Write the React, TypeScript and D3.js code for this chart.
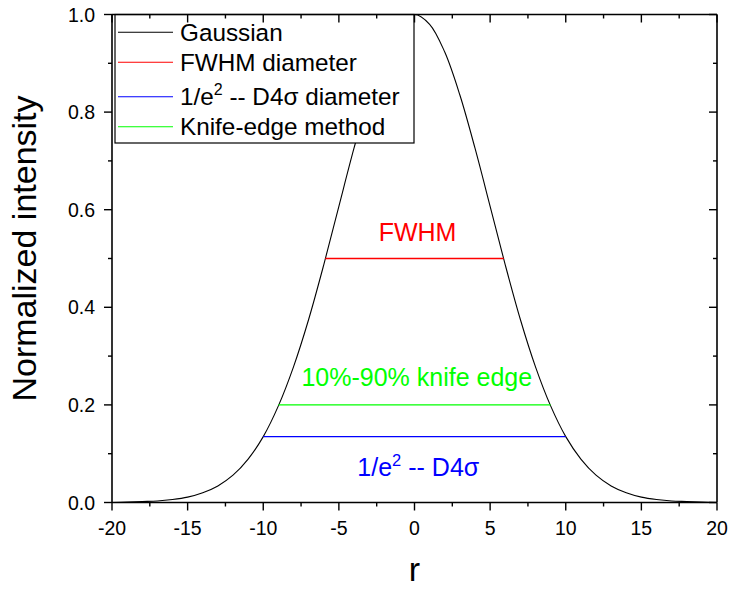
import React from "react";
import * as d3 from "d3";

const rValues = [-20, -19, -18, -17, -16, -15, -14, -13, -12, -11, -10, -9, -8, -7, -6, -5, -4, -3, -2, -1, 0, 1, 2, 3, 4, 5, 6, 7, 8, 9, 10, 11, 12, 13, 14, 15, 16, 17, 18, 19, 20];
const intensity = [0.0, 0.001, 0.002, 0.003, 0.006, 0.011, 0.02, 0.034, 0.056, 0.089, 0.135, 0.198, 0.278, 0.375, 0.487, 0.607, 0.726, 0.835, 0.923, 0.98, 1.0, 0.98, 0.923, 0.835, 0.726, 0.607, 0.487, 0.375, 0.278, 0.198, 0.135, 0.089, 0.056, 0.034, 0.02, 0.011, 0.006, 0.003, 0.002, 0.001, 0.0];

// Horizontal width markers: [xStart, xEnd, level]
const markerNames = ["FWHM diameter", "1/e2 -- D4σ diameter", "Knife-edge method"];
const markerColors = ["#ff0000", "#0000ff", "#00ff00"];
const markerX0 = [-5.9, -10, -9];
const markerX1 = [5.9, 10, 9];
const markerY = [0.5, 0.135, 0.2];

const xTicks = [-20, -15, -10, -5, 0, 5, 10, 15, 20];
const xMinor = [-17.5, -12.5, -7.5, -2.5, 2.5, 7.5, 12.5, 17.5];
const yTicks = [0, 0.2, 0.4, 0.6, 0.8, 1.0];
const yMinor = [0.1, 0.3, 0.5, 0.7, 0.9];

const W = 729;
const H = 590;
const FONT = "'Liberation Sans', Arial, sans-serif";

export default function App() {
  const left = 112, right = 717, top = 14.5, bottom = 502.5;
  const x = d3.scaleLinear().domain([-20, 20]).range([left, right]);
  const y = d3.scaleLinear().domain([0, 1]).range([bottom, top]);

  const pts: [number, number][] = rValues.map((r, i) => [r, intensity[i]]);
  const line = d3
    .line<[number, number]>()
    .x((d) => x(d[0]))
    .y((d) => y(d[1]))
    .curve(d3.curveCatmullRom.alpha(0.5));

  const major = 8, minor = 4;
  const tickLabelSize = 19.5;

  // legend layout
  const legX = 115, legY = top, legW = 299, legH = 128.5;
  const rowLineY = [32.3, 62.3, 96.7, 126.7];
  const legendColors = ["#000000", ...markerColors];

  return (
    <svg
      width={W}
      height={H}
      style={{ position: "absolute", left: 0, top: 0, background: "#fff" }}
      fontFamily={FONT}
    >
      <rect x={0} y={0} width={W} height={H} fill="#fff" />

      {/* Gaussian curve */}
      <path d={line(pts) || ""} fill="none" stroke="#000" strokeWidth={1.1} />

      {/* marker lines */}
      {markerY.map((v, i) => (
        <line
          key={i}
          x1={x(markerX0[i])}
          x2={x(markerX1[i])}
          y1={y(v)}
          y2={y(v)}
          stroke={markerColors[i]}
          strokeWidth={1.4}
        />
      ))}

      {/* annotations */}
      <text x={x(0.2)} y={241} fontSize={25} fill="#ff0000" textAnchor="middle">
        FWHM
      </text>
      <text x={x(0.15)} y={386} fontSize={25} fill="#00ff00" textAnchor="middle">
        10%-90% knife edge
      </text>
      <text x={x(0.25)} y={476} fontSize={25} fill="#0000ff" textAnchor="middle">
        1/e
        <tspan dy={-10} fontSize={16.5}>2</tspan>
        <tspan dy={10}> -- D4σ</tspan>
      </text>

      {/* legend */}
      <rect x={legX} y={legY} width={legW} height={legH} fill="#fff" stroke="#000" strokeWidth={1.2} />
      {["Gaussian", ...markerNames].map((name, i) => (
        <g key={i}>
          <line x1={118} x2={173} y1={rowLineY[i]} y2={rowLineY[i]} stroke={legendColors[i]} strokeWidth={1.1} />
          {i === 2 ? (
            <text x={180} y={rowLineY[i] + 8.5} fontSize={24.3} fill="#000">
              1/e
              <tspan dy={-10} fontSize={16}>2</tspan>
              <tspan dy={10}> -- D4σ diameter</tspan>
            </text>
          ) : (
            <text x={180} y={rowLineY[i] + 8.5} fontSize={24.3} fill="#000">
              {name}
            </text>
          )}
        </g>
      ))}

      {/* axes frame */}
      <line x1={left} x2={right} y1={bottom} y2={bottom} stroke="#000" strokeWidth={1.6} />
      <line x1={left} x2={right} y1={top} y2={top} stroke="#000" strokeWidth={1.6} />
      <line x1={left} x2={left} y1={top} y2={bottom} stroke="#000" strokeWidth={1.6} />
      <line x1={right} x2={right} y1={top} y2={bottom} stroke="#000" strokeWidth={1.6} />

      {/* x ticks */}
      {xTicks.map((t) => (
        <g key={"xt" + t}>
          <line x1={x(t)} x2={x(t)} y1={bottom} y2={bottom + major} stroke="#000" strokeWidth={1.4} />
          <line x1={x(t)} x2={x(t)} y1={top} y2={top + major} stroke="#000" strokeWidth={1.4} />
          <text x={x(t)} y={535} fontSize={tickLabelSize} textAnchor="middle" fill="#000">
            {t}
          </text>
        </g>
      ))}
      {xMinor.map((t) => (
        <g key={"xm" + t}>
          <line x1={x(t)} x2={x(t)} y1={bottom} y2={bottom + minor} stroke="#000" strokeWidth={1.4} />
          <line x1={x(t)} x2={x(t)} y1={top} y2={top + minor} stroke="#000" strokeWidth={1.4} />
        </g>
      ))}

      {/* y ticks */}
      {yTicks.map((t) => (
        <g key={"yt" + t}>
          <line x1={left - major} x2={left} y1={y(t)} y2={y(t)} stroke="#000" strokeWidth={1.4} />
          <line x1={right - major} x2={right} y1={y(t)} y2={y(t)} stroke="#000" strokeWidth={1.4} />
          <text x={95} y={y(t) + 7} fontSize={tickLabelSize} textAnchor="end" fill="#000">
            {d3.format(".1f")(t)}
          </text>
        </g>
      ))}
      {yMinor.map((t) => (
        <g key={"ym" + t}>
          <line x1={left - minor} x2={left} y1={y(t)} y2={y(t)} stroke="#000" strokeWidth={1.4} />
          <line x1={right - minor} x2={right} y1={y(t)} y2={y(t)} stroke="#000" strokeWidth={1.4} />
        </g>
      ))}

      {/* axis titles */}
      <text x={x(0)} y={581} fontSize={34} textAnchor="middle" fill="#000">
        r
      </text>
      <text
        transform={`translate(36,${(95 + 402) / 2}) rotate(-90)`}
        fontSize={34}
        textAnchor="middle"
        fill="#000"
      >
        Normalized intensity
      </text>
    </svg>
  );
}
